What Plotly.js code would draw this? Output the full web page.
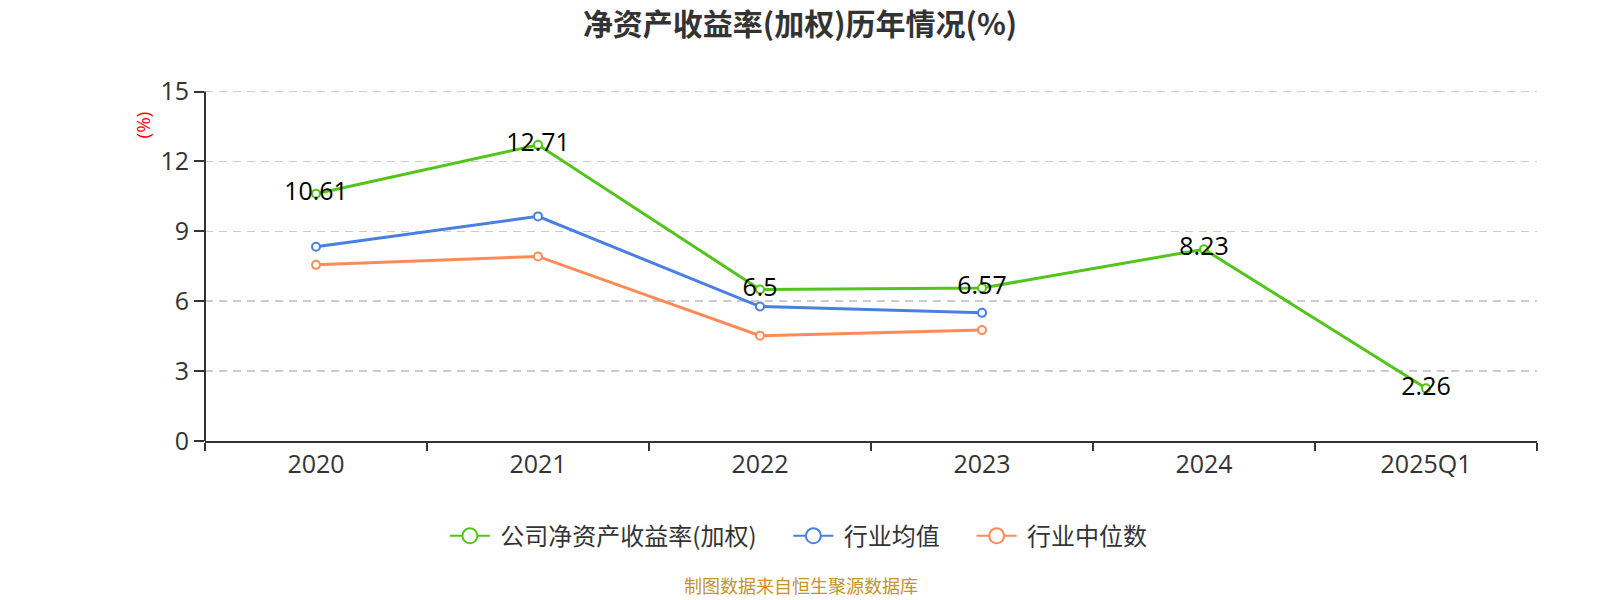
<!DOCTYPE html>
<html>
<head>
<meta charset="utf-8">
<script src="https://cdn.plot.ly/plotly-3.0.1.min.js"></script>
<style>html,body{margin:0;padding:0;background:#fff;}#chart{width:1600px;height:600px;}</style>
</head>
<body>
<div id="chart"></div>
<script>
var categories = ["2020", "2021", "2022", "2023", "2024", "2025Q1"];
var companyRoe = [10.61, 12.71, 6.5, 6.57, 8.23, 2.26];
var industryMean = [8.34, 9.64, 5.77, 5.50, null, null];
var industryMedian = [7.56, 7.92, 4.52, 4.76, null, null];
var seriesNames = ["公司净资产收益率(加权)", "行业均值", "行业中位数"];
var seriesColors = ["#52c41a", "#4a7fe2", "#ff8a56"];
var yTicks = [0, 3, 6, 9, 12, 15];

var FONT = "Open Sans, Noto Sans CJK SC, sans-serif";
var CJK = "Noto Sans CJK SC, sans-serif";

function mk(name, y, color, withText) {
  var t = {
    type: "scatter",
    x: categories,
    y: y,
    name: name,
    showlegend: false,
    mode: withText ? "lines+markers+text" : "lines+markers",
    line: {color: color, width: 3},
    marker: {symbol: "circle", size: 8, color: "#ffffff", line: {color: color, width: 2}},
    connectgaps: false,
    hoverinfo: "x+y"
  };
  if (withText) {
    t.text = y.map(function(v){ return v === null ? "" : String(v); });
    t.textposition = "middle center";
    t.textfont = {family: FONT, size: 25, color: "#000000"};
  }
  return t;
}

function legendItem(name, color) {
  return {
    type: "scatter",
    x: [null], y: [null],
    name: "\u00a0" + name + "\u00a0\u00a0\u00a0\u00a0\u00a0",
    mode: "lines+markers",
    line: {color: color, width: 2},
    marker: {symbol: "circle", size: 15, color: "#ffffff", line: {color: color, width: 2}},
    showlegend: true,
    hoverinfo: "skip"
  };
}

var data = [
  mk(seriesNames[0], companyRoe, seriesColors[0], true),
  mk(seriesNames[1], industryMean, seriesColors[1], false),
  mk(seriesNames[2], industryMedian, seriesColors[2], false),
  legendItem(seriesNames[0], seriesColors[0]),
  legendItem(seriesNames[1], seriesColors[1]),
  legendItem(seriesNames[2], seriesColors[2])
];

var yTop = 15.15;
var plotH = 349.7 * yTop / 15;

var layout = {
  width: 1600,
  height: 600,
  paper_bgcolor: "#ffffff",
  plot_bgcolor: "#ffffff",
  margin: {l: 205, r: 63, t: 600 - 159.3 - plotH, b: 159.3, pad: 0},
  font: {family: FONT, color: "#333333"},
  title: {
    text: "<b>净资产收益率(加权)历年情况(%)</b>",
    font: {family: CJK, size: 30, color: "#333333"},
    x: 0.5, xanchor: "center",
    y: 1 - 24/600, yanchor: "middle", yref: "container"
  },
  xaxis: {
    type: "category",
    tickvals: categories,
    ticktext: categories,
    tickson: "boundaries",
    ticks: "outside",
    ticklen: 8,
    tickwidth: 2,
    tickcolor: "#333333",
    showline: true,
    linecolor: "#333333",
    linewidth: 2,
    showgrid: false,
    zeroline: false,
    tickfont: {family: FONT, size: 25, color: "#333333"},
    range: [-0.5, 5.5],
    fixedrange: true
  },
  yaxis: {
    range: [0, yTop],
    tickvals: yTicks,
    ticktext: yTicks.map(String),
    ticks: "outside",
    ticklen: 10,
    tickwidth: 2,
    tickcolor: "#333333",
    showline: false,
    showgrid: true,
    gridcolor: "#cccccc",
    gridwidth: 1.5,
    griddash: "8px,6px",
    zeroline: false,
    tickfont: {family: FONT, size: 25, color: "#333333"},
    fixedrange: true
  },
  shapes: [
    {
      type: "line",
      xref: "paper", x0: 0, x1: 0,
      yref: "y", y0: 0, y1: yTicks[yTicks.length - 1],
      line: {color: "#333333", width: 2},
      layer: "above"
    }
  ],
  showlegend: true,
  legend: {
    orientation: "h",
    x: 0.456, xanchor: "center",
    y: (440.7 - 536) / 353.4, yanchor: "middle",
    font: {family: CJK, size: 24, color: "#333333"},
    itemwidth: 40,
    bgcolor: "rgba(0,0,0,0)"
  },
  annotations: [
    {
      text: "(%)",
      xref: "paper", yref: "paper",
      x: (143 - 205) / 1332, y: (440.7 - 125) / plotH,
      xanchor: "center", yanchor: "middle",
      textangle: -90,
      showarrow: false,
      font: {family: FONT, size: 19, color: "#ff0000"}
    },
    {
      text: "制图数据来自恒生聚源数据库",
      xref: "paper", yref: "paper",
      x: (801 - 205) / 1332, y: (440.7 - 585) / plotH,
      xanchor: "center", yanchor: "middle",
      showarrow: false,
      font: {family: CJK, size: 18, color: "#c8922a"}
    }
  ]
};

Plotly.newPlot("chart", data, layout, {displayModeBar: false, staticPlot: true});
</script>
</body>
</html>
